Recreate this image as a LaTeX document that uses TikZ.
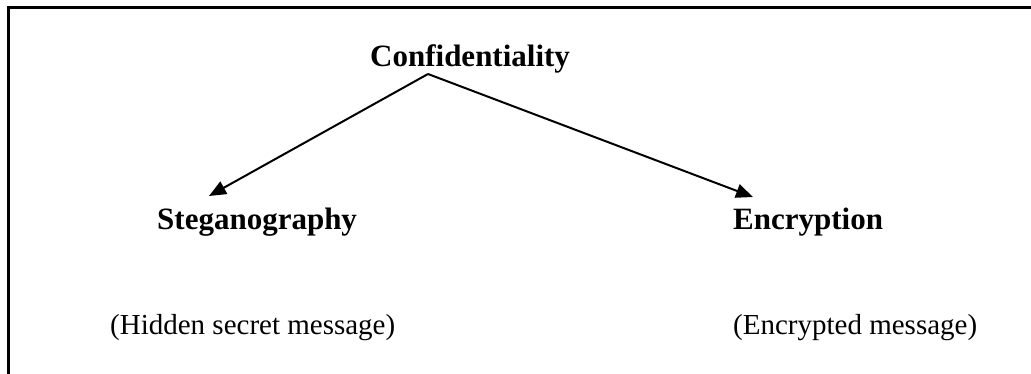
\documentclass[tikz,border=0pt]{standalone}
\usepackage{fontspec}
\setmainfont{Liberation Serif}
\usetikzlibrary{arrows.meta}
\begin{document}
\begin{tikzpicture}[x=1pt,y=-1pt,
  heading/.style={anchor=base west,inner sep=0pt,font=\fontsize{31}{36}\selectfont\bfseries},
  note/.style={anchor=base west,inner sep=0pt,font=\fontsize{29}{34}\selectfont},
  link/.style={line width=2pt,-{Triangle[length=17pt,width=14pt]}}]
  \useasboundingbox (0,0) rectangle (1031,374);
  % open frame: only the top and left edges fall inside the page
  \draw[line width=2.4pt] (8.5,380) -- (8.5,7.5) -- (1040,7.5);
  % labels
  \node[heading] (conf) at (370,67) {Confidentiality};
  \node[heading] (steg) at (157,230) {Steganography};
  \node[heading] (enc)  at (733,230) {Encryption};
  \node[note] (hid) at (110,334) {(Hidden secret message)};
  \node[note] (encm) at (733,334) {(Encrypted message)};
  % branch point and arrow tips
  \coordinate (apex) at (428,74);
  \coordinate (tipL) at (209,196);
  \coordinate (tipR) at (753,197);
  \draw[link] (apex) -- (tipL);
  \draw[link] (apex) -- (tipR);
\end{tikzpicture}
\end{document}
